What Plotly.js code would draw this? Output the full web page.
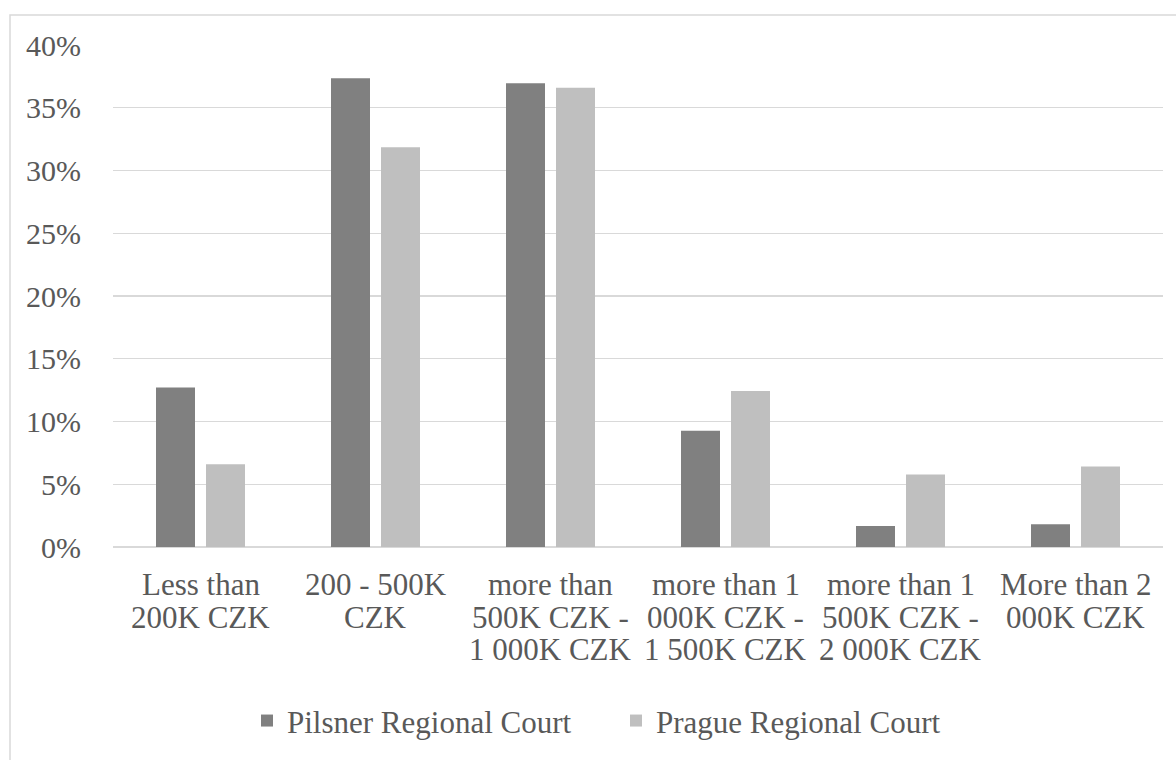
<!DOCTYPE html>
<html>
<head>
<meta charset="utf-8">
<script src="https://cdn.plot.ly/plotly-3.0.1.min.js"></script>
</head>
<body style="margin:0;padding:0;background:#ffffff;font-family:'Liberation Serif'">
<div id="chart" style="width:1176px;height:760px"></div>
<script>
const categories = [
  "Less than<br>200K CZK",
  "200 - 500K<br>CZK",
  "more than<br>500K CZK -<br>1 000K CZK",
  "more than 1<br>000K CZK -<br>1 500K CZK",
  "more than 1<br>500K CZK -<br>2 000K CZK",
  "More than 2<br>000K CZK"
];
const seriesNames = ["Pilsner Regional Court", "Prague Regional Court"];
const pilsnerValues = [12.7, 37.35, 36.95, 9.26, 1.67, 1.81];
const pragueValues = [6.6, 31.85, 36.6, 12.44, 5.78, 6.42];
const yTickValues = [0, 5, 10, 15, 20, 25, 30, 35, 40];

const FONT = "Liberation Serif";
const TEXT = "#595959";

const traces = [
  {
    type: "bar",
    name: seriesNames[0],
    x: categories,
    y: pilsnerValues,
    marker: { color: "#808080" }
  },
  {
    type: "bar",
    name: seriesNames[1],
    x: categories,
    y: pragueValues,
    marker: { color: "#BFBFBF" }
  }
];

// Category labels drawn line by line at each category position (tight line spacing)
const labelAnnotations = [];
categories.forEach(function (cat) {
  cat.split("<br>").forEach(function (line, j) {
    labelAnnotations.push({
      x: cat,
      xref: "x",
      y: 0,
      yref: "paper",
      text: line,
      showarrow: false,
      xanchor: "center",
      yanchor: "middle",
      yshift: -(37.5 + j * 32.5),
      font: { family: FONT, size: 31, color: TEXT }
    });
  });
});

const layout = {
  width: 1176,
  height: 760,
  paper_bgcolor: "#ffffff",
  plot_bgcolor: "#ffffff",
  margin: { l: 113, r: 13, t: 45, b: 204, pad: 0 },
  font: { family: FONT, size: 31, color: TEXT },
  barmode: "group",
  bargap: 0.4286,
  bargroupgap: 0.22,
  showlegend: true,
  legend: {
    orientation: "h",
    x: 0.1276,
    xanchor: "left",
    y: -0.3464,
    yanchor: "middle",
    font: { family: FONT, size: 31, color: TEXT },
    entrywidth: 324,
    entrywidthmode: "pixels"
  },
  xaxis: {
    type: "category",
    showgrid: false,
    showline: false,
    zeroline: false,
    showticklabels: false,
    ticks: ""
  },
  yaxis: {
    range: [0, 40],
    tickvals: yTickValues,
    ticktext: yTickValues.map(v => v + "%"),
    showgrid: true,
    gridcolor: "#D9D9D9",
    gridwidth: 1.3,
    zeroline: true,
    zerolinecolor: "#D9D9D9",
    zerolinewidth: 1.5,
    showline: false,
    ticks: "outside",
    ticklen: 25,
    tickcolor: "rgba(0,0,0,0)",
    tickfont: { family: FONT, size: 30, color: TEXT }
  },
  annotations: labelAnnotations,
  shapes: [
    {
      type: "rect",
      xref: "paper",
      yref: "paper",
      x0: -0.0981,
      x1: 1.1,
      y0: -0.6,
      y1: 1.0597,
      line: { color: "#D9D9D9", width: 1.5 },
      fillcolor: "rgba(0,0,0,0)",
      layer: "below"
    }
  ]
};

const config = { displayModeBar: false, staticPlot: true };
Plotly.newPlot("chart", traces, layout, config);
if (document.fonts && document.fonts.load) {
  document.fonts.load('31px "Liberation Serif"').then(function () {
    Plotly.newPlot("chart", traces, layout, config);
  });
}
</script>
</body>
</html>
